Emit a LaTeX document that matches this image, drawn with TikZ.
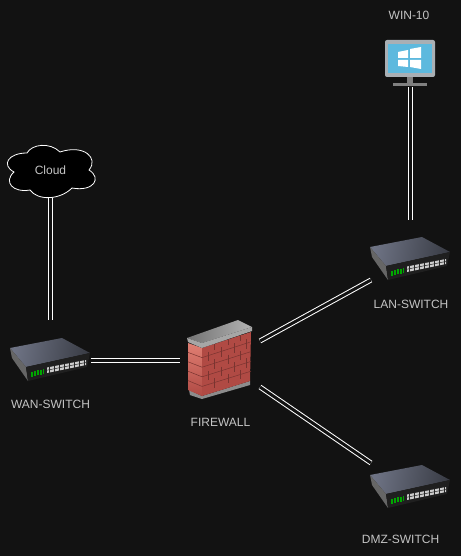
\documentclass[tikz,border=0pt]{standalone}
\usepackage{fontspec}
\setmainfont{Liberation Sans}
\definecolor{bgdark}{HTML}{121212}
\definecolor{labelgrey}{HTML}{C4C4C4}
\definecolor{brick}{HTML}{B04A44}
\definecolor{bricklight}{HTML}{E07F73}
\definecolor{brickdark}{HTML}{7A3430}
\definecolor{screenblue}{HTML}{5DB9DE}
\definecolor{framegrey}{HTML}{A9AFB4}
\definecolor{topleft}{HTML}{6E7384}
\definecolor{topmid}{HTML}{D2D5E0}
\definecolor{topright}{HTML}{3A3D46}
\tikzset{
  wire/.style={draw=white,line width=1pt,double=bgdark,double distance=3pt},
  tag/.style={text=labelgrey,font=\fontsize{12}{14}\selectfont,inner sep=0pt},
  slot/.style={inner sep=0pt,minimum width=80pt,minimum height=81pt},
  pics/switchicon/.style={code={
    \shade[left color=topleft,middle color=topmid,right color=topright,shading angle=80] (-40,-12) -- (12,-22) -- (40,-7) -- (-24,7) -- cycle;
    \fill[black!60] (-40,-12) -- (-24,7) -- (-22,21) -- (-38,-2) -- cycle;
    \fill[black!88] (-24,7) -- (40,-7) -- (37,7) -- (-22,21) -- cycle;
    \foreach \k in {0,...,4}
      \draw[green!65!black,line width=1.6pt] ({-18+\k*2.9},{11.5-\k*0.6}) -- ({-18+\k*2.9},{16.5-\k*0.6});
    \fill[black!20] (-3,7.5) -- (36,0) -- (36,5) -- (-3,13) -- cycle;
    \foreach \k in {0,...,7}
      \draw[black!85,line width=0.5pt] ({-1+\k*5},{7-\k*0.95}) -- ({-1+\k*5},{12.6-\k*0.95});
    \draw[black!85,line width=0.5pt] (-3,10.2) -- (36,2.5);
  }}
}
\begin{document}
\begin{tikzpicture}[x=1pt,y=-1pt]
\useasboundingbox[fill=bgdark] (0,0) rectangle (461,556);

% cloud
\draw[white,fill=black,line width=0.8pt] (14,172) .. controls (1,165) and (8,153) .. (27,153)
  .. controls (32,144) and (50,142) .. (60,152)
  .. controls (84,144) and (99,158) .. (89,170)
  .. controls (102,178) and (94,192) .. (72,188)
  .. controls (60,200) and (38,201) .. (30,190)
  .. controls (13,193) and (3,182) .. (14,172) -- cycle;
\node[tag,minimum width=90pt,minimum height=56pt] (cloud) at (50.5,170) {Cloud};

% switches
\node[slot] (wan) at (50.5,360.5) {};
\pic at (50,360) {switchicon};
\node[slot] (lan) at (410,259) {};
\pic at (lan) {switchicon};
\node[slot] (dmz) at (410,487) {};
\pic at (dmz) {switchicon};

% firewall
\node[inner sep=0pt,minimum width=80pt,minimum height=80pt] (fw) at (220,360.5) {};
\fill[black!45] (189,390) -- (202,396) -- (250,381) -- (250,385) -- (202,399) -- (190,395) -- cycle;
\shade[top color=bricklight,bottom color=brick] (188,343) -- (202,348) -- (202,396) -- (188,390) -- cycle;
\fill[brick] (202,348) -- (251,332) -- (250,381) -- (202,396) -- cycle;
\foreach \k in {1,2,3,4}
  \draw[brickdark,line width=0.5pt] (188,{343+\k*9.4}) -- (202,{348+\k*9.6}) -- (251,{332+\k*9.8});
\foreach \a in {214,228,240}
  \foreach \k in {0,2,4}
    \draw[brickdark,line width=0.5pt] (\a,{344-(\a-202)*0.33+\k*9.6}) -- (\a,{344-(\a-202)*0.33+\k*9.6+9.6});
\foreach \a in {208,221,234,246}
  \foreach \k in {1,3}
    \draw[brickdark,line width=0.5pt] (\a,{344-(\a-202)*0.33+\k*9.6}) -- (\a,{344-(\a-202)*0.33+\k*9.6+9.6});
\shade[left color=black!55,right color=black!30] (187,338) -- (238,320) -- (252,327) -- (202,343) -- cycle;
\fill[black!35] (187,338) -- (202,343) -- (252,327) -- (252,331) -- (202,348) -- (188,342) -- cycle;

% monitor
\node[inner sep=0pt,minimum width=50pt,minimum height=47pt] (win) at (410.5,63.5) {};
\fill[framegrey,rounded corners=2pt] (385,40) rectangle (435,77);
\fill[screenblue] (388,44) rectangle (432,73);
\fill[black!50] (407,77) rectangle (413,83);
\fill[black!50] (393,83) rectangle (427,86);
\fill[white] (398,52) -- (408,50) -- (408,58) -- (398,58) -- cycle;
\fill[white] (410,49) -- (421,47) -- (421,58) -- (410,58) -- cycle;
\fill[white] (398,60) -- (408,60) -- (408,67) -- (398,66) -- cycle;
\fill[white] (410,60) -- (421,60) -- (421,69) -- (410,67) -- cycle;

% labels
\node[tag] (wantag) at (50.5,404) {WAN-SWITCH};
\node[tag] (lantag) at (411,304) {LAN-SWITCH};
\node[tag] (dmztag) at (400.5,539) {DMZ-SWITCH};
\node[tag] (fwtag) at (220.5,422) {FIREWALL};
\node[tag] (wintag) at (409,15) {WIN-10};

% wires
\coordinate (fwup) at (260,341);
\coordinate (fwdown) at (260,387);
\coordinate (lanin) at (371,280);
\coordinate (dmzin) at (371,463);
\coordinate (lantop) at (410.5,220);
\draw[wire] (cloud.south) -- (wan.north);
\draw[wire] (wan.east) -- (fw.west);
\draw[wire] (fwup) -- (lanin);
\draw[wire] (fwdown) -- (dmzin);
\draw[wire] (win.south) -- (lantop);
\end{tikzpicture}
\end{document}
